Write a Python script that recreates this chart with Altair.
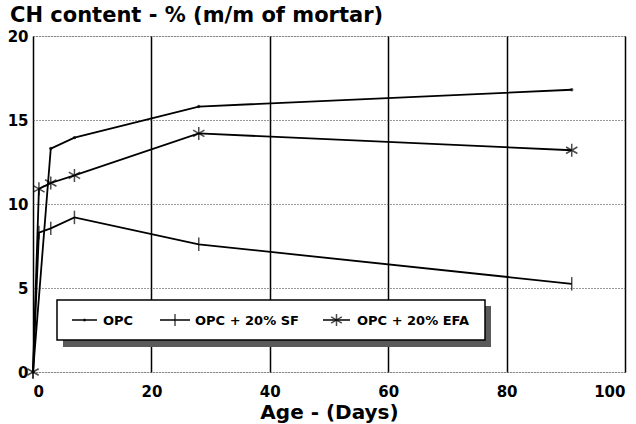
import altair as alt
import pandas as pd

series_names = ["OPC", "OPC + 20% SF", "OPC + 20% EFA"]

days_opc = [0, 3, 7, 28, 91]
ch_opc = [0, 13.3, 13.95, 15.8, 16.8]

days_sf = [0, 1, 3, 7, 28, 91]
ch_sf = [0, 8.3, 8.55, 9.2, 7.6, 5.25]

days_efa = [0, 1, 3, 7, 28, 91]
ch_efa = [0, 10.9, 11.25, 11.7, 14.2, 13.2]

x_ticks = [0, 20, 40, 60, 80, 100]
y_ticks = [0, 5, 10, 15, 20]

rows = []
for name, d, v in zip(series_names, [days_opc, days_sf, days_efa], [ch_opc, ch_sf, ch_efa]):
    for a, b in zip(d, v):
        rows.append({"series": name, "day": a, "ch": b})
df = pd.DataFrame(rows)

FONT = "DejaVu Sans"
plus = "M0,-1L0,1"
star = "M0,-1L0,1M-0.87,-0.5L0.87,0.5M-0.87,0.5L0.87,-0.5"

x_enc = alt.X("day:Q", scale=alt.Scale(domain=[0, 100], nice=False),
              axis=alt.Axis(values=x_ticks, title="Age - (Days)", grid=True,
                            gridColor="black", gridWidth=1.5, gridOpacity=1,
                            ticks=False, domain=False, labelPadding=12,
                            labelFontSize=15, labelFontWeight="bold", labelFont=FONT,
                            labelColor="black",
                            titleFontSize=20, titleFont=FONT, titleFontWeight="bold",
                            titleColor="black", titlePadding=3))
y_enc = alt.Y("ch:Q", scale=alt.Scale(domain=[0, 20], nice=False),
              axis=alt.Axis(values=y_ticks, title=None, grid=True,
                            gridColor="#333", gridDash=[1, 2], gridWidth=1, gridOpacity=1,
                            ticks=False, domain=False, labelPadding=5,
                            labelFontSize=15, labelFontWeight="bold", labelFont=FONT,
                            labelColor="black"))

lines = alt.Chart(df).mark_line(strokeWidth=1.8, color="black").encode(
    x=x_enc, y=y_enc, detail="series:N")

pts_df = df[df["series"] != "OPC"]
opc_pts = alt.Chart(df[df["series"] == "OPC"]).mark_point(
    shape="circle", filled=True, size=12, color="black").encode(x="day:Q", y="ch:Q")
other_pts = alt.Chart(pts_df).mark_point(strokeWidth=1.5, color="black", filled=False).encode(
    x="day:Q", y="ch:Q",
    shape=alt.Shape("series:N", scale=alt.Scale(domain=series_names[1:], range=[plus, star]), legend=None),
    size=alt.Size("series:N", scale=alt.Scale(domain=series_names[1:], range=[180, 170]), legend=None))

# custom legend box (pixel positions inside the plot area)
shadow = alt.Chart(pd.DataFrame({"a": [0]})).mark_rect(color="#5a5a5a").encode(
    x=alt.value(30), x2=alt.value(458), y=alt.value(270), y2=alt.value(311))
box = alt.Chart(pd.DataFrame({"a": [0]})).mark_rect(fill="white", stroke="black", strokeWidth=1.5).encode(
    x=alt.value(24), x2=alt.value(452), y=alt.value(264), y2=alt.value(304))

leg_y = 284
leg_line_x = [(39, 64), (127, 157), (290, 317)]
leg_text_x = [70, 162, 324]
legend_layers = []
for i, name in enumerate(series_names):
    x0, x1 = leg_line_x[i]
    one = pd.DataFrame({"series": [name]})
    legend_layers.append(alt.Chart(one).mark_rule(color="black", strokeWidth=1.5).encode(
        x=alt.value(x0), x2=alt.value(x1), y=alt.value(leg_y)))
    mid = (x0 + x1) / 2
    if i == 0:
        legend_layers.append(alt.Chart(one).mark_point(shape="circle", filled=True, size=10, color="black").encode(
            x=alt.value(mid), y=alt.value(leg_y)))
    else:
        legend_layers.append(alt.Chart(one).mark_point(shape=[plus, star][i - 1], size=150,
                                                         strokeWidth=1.5, color="black").encode(
            x=alt.value(mid), y=alt.value(leg_y)))
    legend_layers.append(alt.Chart(one).mark_text(align="left", baseline="middle", font=FONT,
                                                  fontSize=13, fontWeight="bold", color="black").encode(
        x=alt.value(leg_text_x[i]), y=alt.value(leg_y + 1), text="series:N"))

chart = alt.layer(lines, opc_pts, other_pts, shadow, box, *legend_layers).properties(
    width=592, height=336,
    title=alt.TitleParams("CH content - % (m/m of mortar)", anchor="start", frame="group",
                          dx=-23, offset=3, fontSize=21, font=FONT, fontWeight="bold", color="black"),
    padding={"left": 33, "top": 36, "right": 11, "bottom": 52},
    autosize=alt.AutoSizeParams(type="none"),
).configure_view(stroke="black", strokeWidth=2).configure(background="white")

chart.save("out.html", embed_options={"renderer": "svg", "actions": False})
